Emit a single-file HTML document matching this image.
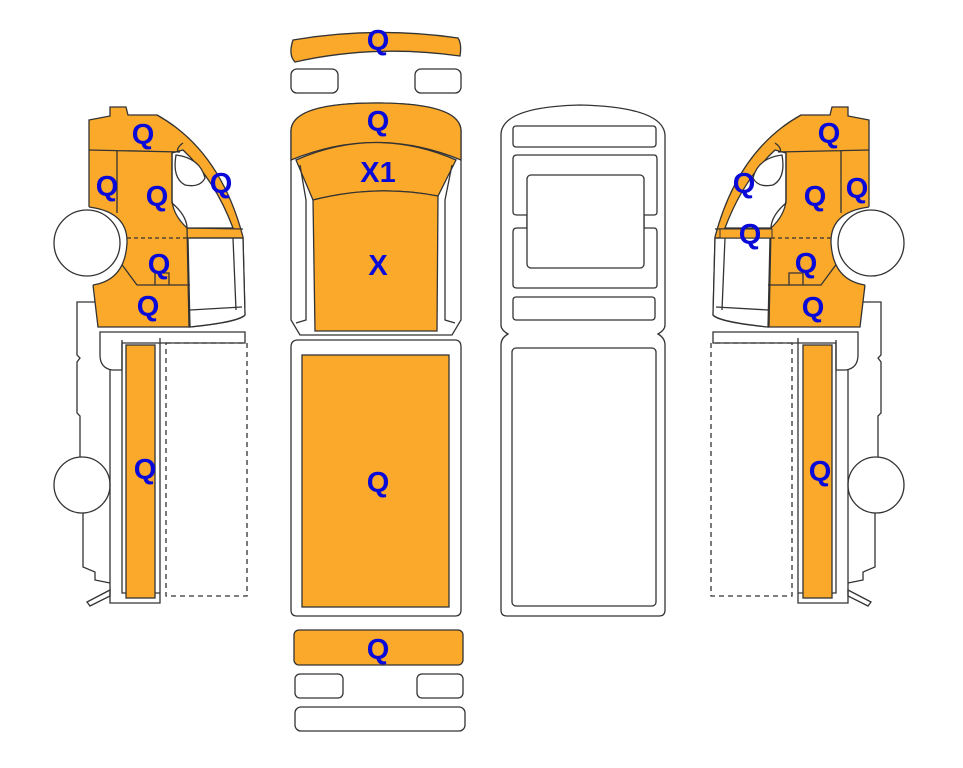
<!DOCTYPE html>
<html><head><meta charset="utf-8"><style>
html,body{margin:0;padding:0;background:#fff;}
svg{display:block;}
text{font-family:"Liberation Sans",Arial,sans-serif;font-weight:bold;fill:#0a0ad8;font-size:29px;text-anchor:middle;}
</style></head><body>
<svg width="963" height="768" viewBox="0 0 963 768" xmlns="http://www.w3.org/2000/svg">
<defs>
<g id="side" stroke="#333" stroke-width="1.3" fill="none">
  <path d="M95,302 L77,302 L77,355 L80,358 L77,362 L77,413 L80,416 L80,460" fill="#fff"/>
  <path d="M83,512 L83,567 L95,572 L95,580 L110,583" fill="#fff"/>
  <circle cx="82" cy="485" r="28" fill="#fff"/>
  <path d="M87,602 L110,590 L110,596 L90,606 Z" fill="#fff"/>
  <path d="M100,332 L245,332 L245,343 L122,343 L122,370 L112,370 Q100,368 100,355 Z" fill="#fff"/>
  <path d="M110,370 L110,603 L160,603 L160,338 M122,340 L122,593 L160,593" fill="none"/>
  <rect x="126" y="345" width="29" height="253" fill="#FBA92B"/>
  <rect x="166" y="343" width="81" height="253" stroke-dasharray="5,4" fill="none"/>
  <!-- cab -->
  <path d="M89,120 L110,116 L110,107 L126,107 L128,115 L157,115 Q220,150 243,237 L245,315 Q240,322 190,327 L98,327 L93,285 L89,207 Z" fill="#FBA92B"/>
  <path d="M188,238 L243,238 L245,315 Q238,322 190,327 Z" fill="#fff"/>
  <path d="M190,310 L242,307"/>
  <path d="M233,238 L236,310"/>
  <path d="M172,153 L183,150 Q215,180 233,228 L187,228 Q173,215 172,200 Z" fill="#fff"/>
  <path d="M176,155 Q200,158 205,178 Q200,188 185,185 Q172,178 176,155 Z" fill="#fff"/>
  <path d="M183,143 Q176,148 178,152"/>
  <path d="M89,150 L180,152 M117,150 L117,213 M172,153 L172,203 Q186,215 187,227 L189,327 M187,228 L243,229"/>
  <path d="M127,238 L187,238" stroke-dasharray="4,3"/>
  <path d="M187,238 L243,238"/>
  <path d="M120,262 L137,285 L190,285 M155,285 L155,273 L169,273 L169,285"/>
  <!-- wheel arch -->
  <path d="M80,203 L89,207 Q128,212 127,243 Q125,280 93,285 L80,290 Z" fill="#fff" stroke="none"/>
  <path d="M89,207 Q128,212 127,243 Q125,280 93,285"/>
  <circle cx="87" cy="243" r="33" fill="#fff"/>
</g>
</defs>

<use href="#side"/>
<g transform="translate(958,0) scale(-1,1)"><use href="#side"/></g>
<rect x="720" y="229" width="52" height="9" fill="#FBA92B" stroke="#333" stroke-width="1"/>

<g stroke="#333" stroke-width="1.3">
  <path d="M293,40 Q375,26 458,38 Q462,44 460,56 Q375,44 295,62 Q288,55 293,40 Z" fill="#FBA92B"/>
  <rect x="291" y="69" width="47" height="24" rx="6" fill="#fff"/>
  <rect x="415" y="69" width="46" height="24" rx="6" fill="#fff"/>
  <path d="M291,130 Q293,103 376,103 Q459,103 461,130 L461,320 L452,335 L300,335 L291,320 Z" fill="#fff"/>
  <path d="M291,160 L291,130 Q293,103 376,103 Q459,103 461,130 L461,160 Q376,125 291,160 Z" fill="#FBA92B"/>
  <path d="M296,160 Q376,125 456,160 L438,196 Q376,184 313,200 Z" fill="#FBA92B"/>
  <path d="M313,200 Q376,184 438,196 L437,331 L315,331 Z" fill="#FBA92B"/>
  <path d="M300,165 L306,200 L306,320 L296,323 M452,165 L445,200 L445,320 L455,323" fill="none"/>
  <path d="M291,347 Q291,340 298,340 L455,340 Q461,340 461,347 L461,610 Q461,616 455,616 L297,616 Q291,616 291,610 Z" fill="#fff"/>
  <rect x="302" y="355" width="147" height="252" fill="#FBA92B"/>
  <rect x="294" y="630" width="169" height="35" rx="5" fill="#FBA92B"/>
  <rect x="295" y="674" width="48" height="24" rx="5" fill="#fff"/>
  <rect x="417" y="674" width="46" height="24" rx="5" fill="#fff"/>
  <rect x="295" y="707" width="170" height="24" rx="6" fill="#fff"/>
</g>

<g stroke="#333" stroke-width="1.3" fill="#fff">
  <path d="M501,135 Q501,107 580,105 Q663,107 665,135 L665,325 Q665,330 658,334 Q665,338 665,345 L665,610 Q665,616 659,616 L507,616 Q501,616 501,610 L501,345 Q501,338 508,334 Q501,330 501,325 Z"/>
  <rect x="513" y="126" width="143" height="21" rx="3"/>
  <path d="M517,155 L654,155 Q657,155 657,159 L657,212 Q657,215 654,215 L644,215 L644,228 L654,228 Q657,228 657,232 L657,285 Q657,288 654,288 L517,288 Q513,288 513,285 L513,232 Q513,228 517,228 L527,228 L527,215 L517,215 Q513,215 513,212 L513,159 Q513,155 517,155 Z"/>
  <rect x="527" y="175" width="117" height="93" rx="4"/>
  <rect x="513" y="297" width="142" height="23" rx="3"/>
  <rect x="512" y="348" width="144" height="258" rx="4"/>
</g>

<text x="143" y="144">Q</text>
<text x="107" y="196">Q</text>
<text x="157" y="206">Q</text>
<text x="221" y="193">Q</text>
<text x="159" y="274">Q</text>
<text x="148" y="316">Q</text>
<text x="145" y="479">Q</text>
<text x="378" y="50">Q</text>
<text x="378" y="131">Q</text>
<text x="378" y="182">X1</text>
<text x="378" y="275">X</text>
<text x="378" y="492">Q</text>
<text x="378" y="659">Q</text>
<text x="829" y="143">Q</text>
<text x="744" y="193">Q</text>
<text x="815" y="206">Q</text>
<text x="857" y="198">Q</text>
<text x="750" y="244">Q</text>
<text x="806" y="273">Q</text>
<text x="813" y="317">Q</text>
<text x="820" y="481">Q</text>
</svg>
</body></html>
